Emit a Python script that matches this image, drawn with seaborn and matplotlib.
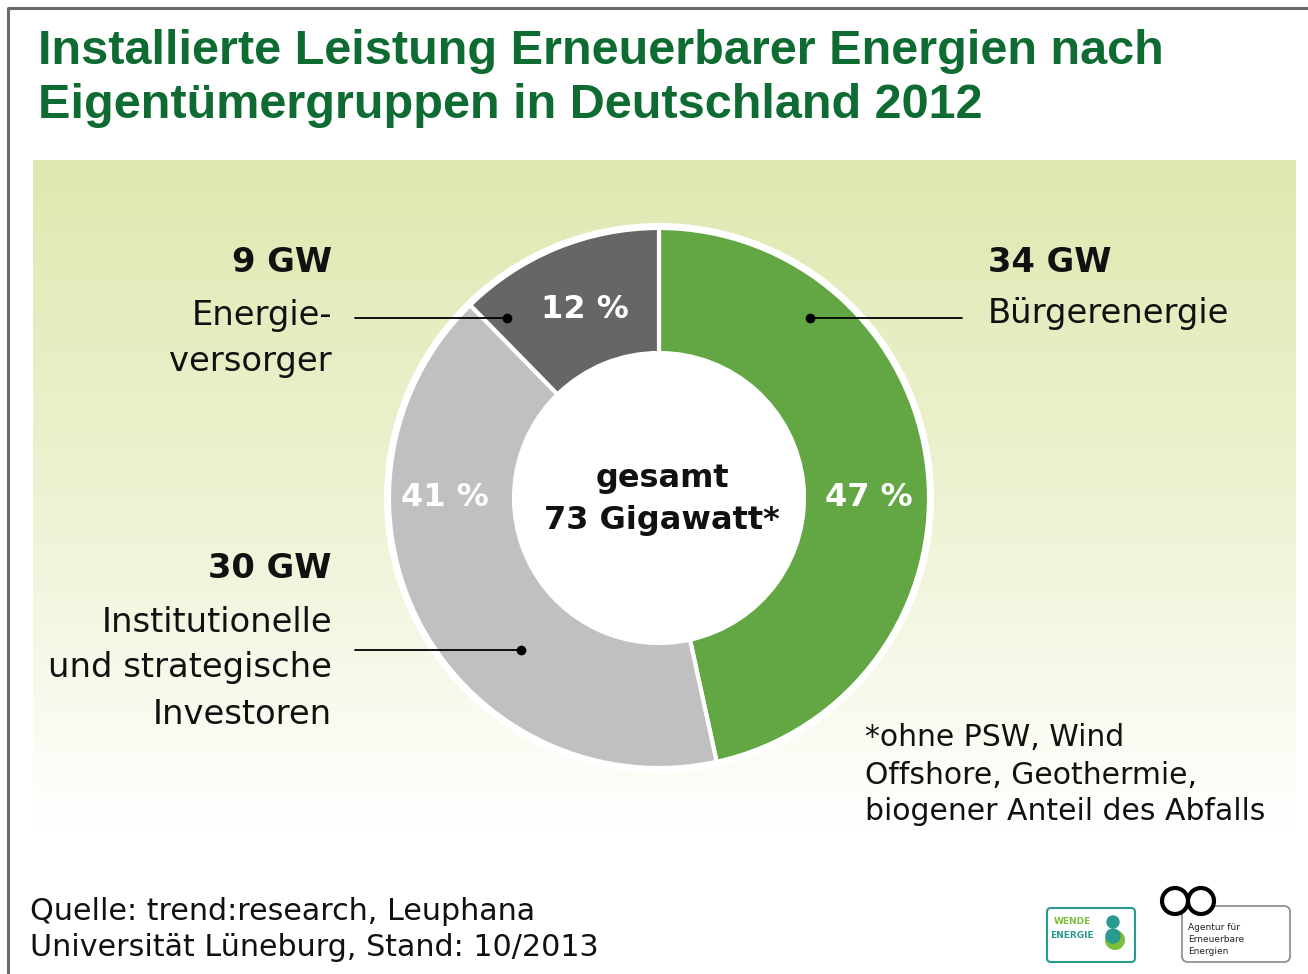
import numpy as np
import matplotlib
matplotlib.use("Agg")
import matplotlib.pyplot as plt
import seaborn as sns
from matplotlib.patches import Circle, FancyBboxPatch
from matplotlib.colors import LinearSegmentedColormap

# ---- data ----
groups = ["Bürgerenergie", "Institutionelle und strategische Investoren", "Energieversorger"]
capacity_gw = [34, 30, 9]
share_labels = ["47 %", "41 %", "12 %"]
gw_labels = ["34 GW", "30 GW", "9 GW"]
total_label = ["gesamt", "73 Gigawatt*"]
title_lines = ["Installierte Leistung Erneuerbarer Energien nach",
               "Eigentümergruppen in Deutschland 2012"]
footnote_lines = ["*ohne PSW, Wind", "Offshore, Geothermie,", "biogener Anteil des Abfalls"]
source_lines = ["Quelle: trend:research, Leuphana", "Universität Lüneburg, Stand: 10/2013"]

colors = ["#62A744", "#C0C0C0", "#666666"]

sns.set_style("white")
plt.rcParams["font.family"] = ["DejaVu Sans"]
plt.rcParams["text.color"] = "#111111"
TITLE_FONT = ["Liberation Sans", "DejaVu Sans"]

W, H = 1308, 974
fig = plt.figure(figsize=(W / 100, H / 100), dpi=100)
ax = fig.add_axes([0, 0, 1, 1])

def Y(y):
    return H - y

# background gradient box
cmap = LinearSegmentedColormap.from_list("bg", ["#DFE8B0", "#EEF2D2", "#FFFFFF"])
grad = np.linspace(0, 1, 256).reshape(-1, 1)
ax.imshow(grad, cmap=cmap, extent=[33, 1296, Y(830), Y(160)], aspect="auto", zorder=0)

# border
ax.plot([8, 8, W], [0, Y(8), Y(8)], color="#6A6A6A", lw=2.2, zorder=1, solid_capstyle="butt")

# donut
cx, cy, R = 659, 498, 270
ax.add_patch(Circle((cx, Y(cy)), R + 5, facecolor="white", edgecolor="none", zorder=2))
wedges, _ = ax.pie(capacity_gw, colors=colors, startangle=90, counterclock=False,
                   radius=R, center=(cx, Y(cy)),
                   wedgeprops=dict(width=125, edgecolor="white", linewidth=3))
for w in wedges:
    w.set_zorder(3)

# percentage labels inside ring
pct_pos = [(869, 498), (445, 498), (585, 310)]
for (x, y), s in zip(pct_pos, share_labels):
    ax.text(x, Y(y), s, color="white", fontsize=23, fontweight="bold",
            ha="center", va="center", zorder=5)

# center text
ax.text(cx + 3, Y(478), total_label[0], fontsize=23, fontweight="bold", ha="center", va="center", zorder=5)
ax.text(cx + 3, Y(521), total_label[1], fontsize=23, fontweight="bold", ha="center", va="center", zorder=5)

# title
for i, t in enumerate(title_lines):
    ax.text(38, Y(52 + 53 * i), t, color="#0E6B32", fontsize=35, fontweight="bold",
            family=TITLE_FONT, ha="left", va="center", zorder=5)

# labels
lab_fs = 24.3
ax.text(332, Y(263), gw_labels[2], fontsize=lab_fs, fontweight="bold", ha="right", va="center")
ax.text(332, Y(315), "Energie-", fontsize=lab_fs, ha="right", va="center")
ax.text(332, Y(361), "versorger", fontsize=lab_fs, ha="right", va="center")

ax.text(988, Y(263), gw_labels[0], fontsize=lab_fs, fontweight="bold", ha="left", va="center")
ax.text(988, Y(314), "Bürgerenergie", fontsize=lab_fs, ha="left", va="center")

ax.text(332, Y(568), gw_labels[1], fontsize=lab_fs, fontweight="bold", ha="right", va="center")
ax.text(332, Y(622), "Institutionelle", fontsize=lab_fs, ha="right", va="center")
ax.text(332, Y(668), "und strategische", fontsize=lab_fs, ha="right", va="center")
ax.text(332, Y(715), "Investoren", fontsize=lab_fs, ha="right", va="center")

# leader lines
leaders = [((355, 318), (507, 318)), ((962, 318), (810, 318)), ((355, 650), (521, 650))]
for (x0, y0), (x1, y1) in leaders:
    ax.plot([x0, x1], [Y(y0), Y(y1)], color="black", lw=1.3, zorder=6)
    ax.plot([x1], [Y(y1)], "o", color="black", ms=6, zorder=6)

# footnote
for i, t in enumerate(footnote_lines):
    ax.text(865, Y(738 + 37 * i), t, fontsize=21.5, ha="left", va="center", zorder=5)

# source
for i, t in enumerate(source_lines):
    ax.text(30, Y(911 + 36 * i), t, fontsize=21.7, ha="left", va="center", zorder=5)

# logo 1 (Energiewende)
ax.add_patch(FancyBboxPatch((1047, Y(962)), 88, 54, boxstyle="round,pad=0,rounding_size=4",
                            facecolor="white", edgecolor="#2A9A8E", lw=1.5, zorder=5))
ax.text(1072, Y(922), "WENDE", fontsize=6.5, color="#7DBE3C", fontweight="bold", ha="center", va="center", zorder=6)
ax.text(1072, Y(936), "ENERGIE", fontsize=6.5, color="#2A9A8E", fontweight="bold", ha="center", va="center", zorder=6)
ax.add_patch(Circle((1113, Y(922)), 6, color="#2A9A8E", zorder=6))
ax.add_patch(Circle((1115, Y(940)), 10, facecolor="#7DBE3C", edgecolor="none", zorder=6))
ax.add_patch(Circle((1113, Y(936)), 7, color="#2A9A8E", zorder=7))

# logo 2 (Agentur für Erneuerbare Energien)
ax.add_patch(FancyBboxPatch((1182, Y(962)), 108, 56, boxstyle="round,pad=0,rounding_size=6",
                            facecolor="white", edgecolor="#888888", lw=1.2, zorder=5))
ax.add_patch(Circle((1175, Y(901)), 13, facecolor="white", edgecolor="black", lw=3, zorder=6))
ax.add_patch(Circle((1201, Y(901)), 13, facecolor="white", edgecolor="black", lw=3, zorder=6))
for i, t in enumerate(["Agentur für", "Erneuerbare", "Energien"]):
    ax.text(1188, Y(928 + 12 * i), t, fontsize=6.5, ha="left", va="center", color="#222222", zorder=7)

ax.set_xlim(0, W)
ax.set_ylim(0, H)
ax.set_aspect("auto")
ax.axis("off")

fig.savefig("out.png", dpi=100, facecolor="white")
